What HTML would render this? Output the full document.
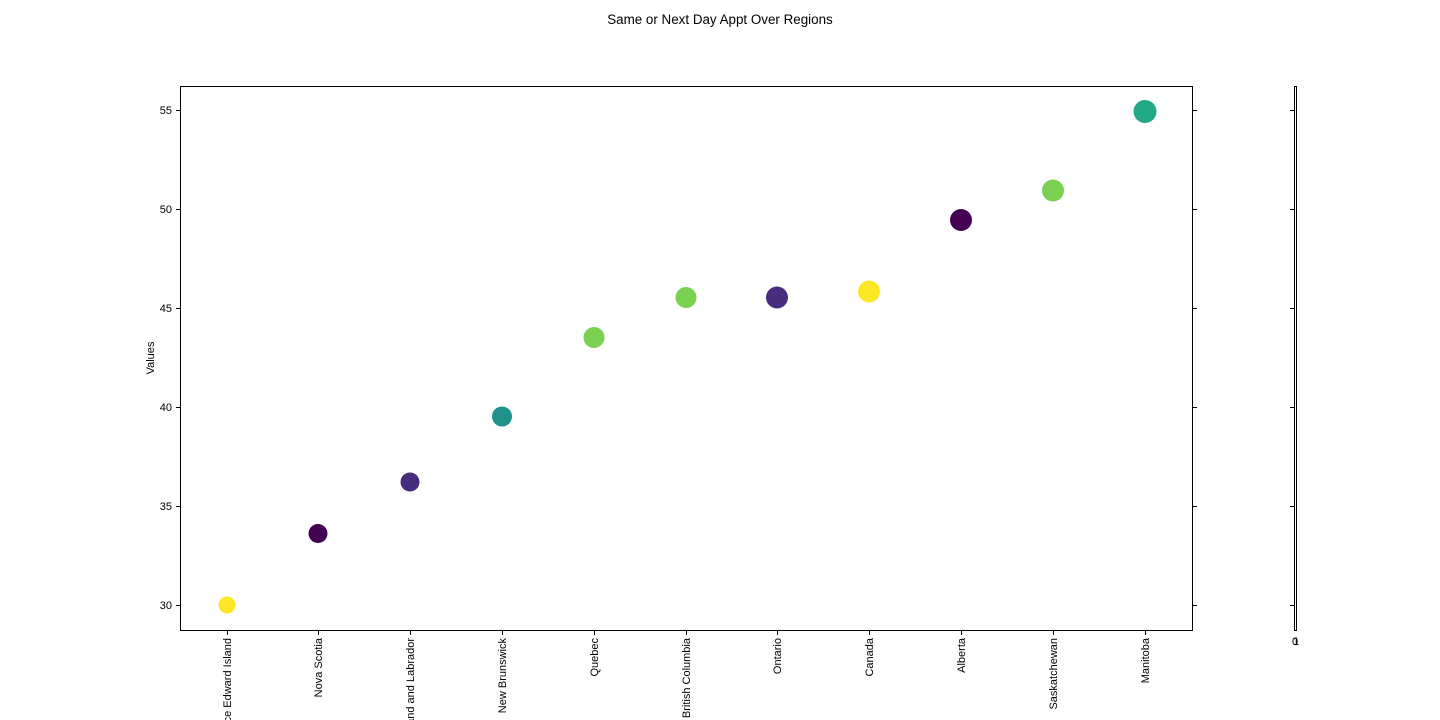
<!DOCTYPE html>
<html><head><meta charset="utf-8"><style>html,body{margin:0;background:#fff;overflow:hidden;width:1440px;height:720px}svg{display:block}text{font-family:"Liberation Sans","DejaVu Sans",sans-serif;font-size:11px;fill:#000}</style></head><body>
<svg width="1440" height="720" viewBox="0 0 1440 720">
<text x="720" y="24" text-anchor="middle" style="font-size:13.4px">Same or Next Day Appt Over Regions</text>
<rect x="180.5" y="86.5" width="1012" height="544" fill="none" stroke="#000" stroke-width="1"/>
<g stroke="#000">
<line x1="176" x2="180" y1="110.5" y2="110.5"/><line x1="176" x2="180" y1="209.5" y2="209.5"/><line x1="176" x2="180" y1="308.5" y2="308.5"/><line x1="176" x2="180" y1="407.5" y2="407.5"/><line x1="176" x2="180" y1="506.5" y2="506.5"/><line x1="176" x2="180" y1="605.5" y2="605.5"/>
<line x1="1193" x2="1197" y1="110.5" y2="110.5"/><line x1="1193" x2="1197" y1="209.5" y2="209.5"/><line x1="1193" x2="1197" y1="308.5" y2="308.5"/><line x1="1193" x2="1197" y1="407.5" y2="407.5"/><line x1="1193" x2="1197" y1="506.5" y2="506.5"/><line x1="1193" x2="1197" y1="605.5" y2="605.5"/>
<line x1="1290" x2="1294" y1="110.5" y2="110.5"/><line x1="1290" x2="1294" y1="209.5" y2="209.5"/><line x1="1290" x2="1294" y1="308.5" y2="308.5"/><line x1="1290" x2="1294" y1="407.5" y2="407.5"/><line x1="1290" x2="1294" y1="506.5" y2="506.5"/><line x1="1290" x2="1294" y1="605.5" y2="605.5"/>
</g>
<rect x="1294.5" y="86.5" width="2" height="544" fill="none" stroke="#000" stroke-width="1"/>
<text x="1295" y="645" text-anchor="middle">0</text><text x="1296" y="645" text-anchor="middle">1</text>
<g text-anchor="end">
<text x="172" y="114">55</text><text x="172" y="213">50</text><text x="172" y="312">45</text><text x="172" y="411">40</text><text x="172" y="510">35</text><text x="172" y="609">30</text>
</g>
<text transform="translate(154,358) rotate(-90)" text-anchor="middle">Values</text>
<g stroke="#000">
<line x1="227.5" x2="227.5" y1="631" y2="635"/><line x1="318.5" x2="318.5" y1="631" y2="635"/><line x1="410.5" x2="410.5" y1="631" y2="635"/><line x1="502.5" x2="502.5" y1="631" y2="635"/><line x1="594.5" x2="594.5" y1="631" y2="635"/><line x1="686.5" x2="686.5" y1="631" y2="635"/><line x1="777.5" x2="777.5" y1="631" y2="635"/><line x1="869.5" x2="869.5" y1="631" y2="635"/><line x1="961.5" x2="961.5" y1="631" y2="635"/><line x1="1053.5" x2="1053.5" y1="631" y2="635"/><line x1="1145.5" x2="1145.5" y1="631" y2="635"/>
</g>
<g text-anchor="end">
<text transform="translate(231,638) rotate(-90)">Prince Edward Island</text>
<text transform="translate(322,638) rotate(-90)">Nova Scotia</text>
<text transform="translate(414,638) rotate(-90)">Newfoundland and Labrador</text>
<text transform="translate(506,638) rotate(-90)">New Brunswick</text>
<text transform="translate(598,638) rotate(-90)">Quebec</text>
<text transform="translate(690,638) rotate(-90)">British Columbia</text>
<text transform="translate(781,638) rotate(-90)">Ontario</text>
<text transform="translate(873,638) rotate(-90)">Canada</text>
<text transform="translate(965,638) rotate(-90)">Alberta</text>
<text transform="translate(1057,638) rotate(-90)">Saskatchewan</text>
<text transform="translate(1149,638) rotate(-90)">Manitoba</text>
</g>
<circle cx="227" cy="605" r="8.5" fill="#fde725"/>
<circle cx="318" cy="533.5" r="9.5" fill="#440154"/>
<circle cx="410" cy="482" r="9.5" fill="#472d7b"/>
<circle cx="502" cy="416.5" r="10" fill="#21918c"/>
<circle cx="594" cy="337.5" r="10.5" fill="#7ad151"/>
<circle cx="686" cy="297.5" r="10.5" fill="#7ad151"/>
<circle cx="777" cy="297.5" r="11" fill="#472d7b"/>
<circle cx="869" cy="291.5" r="11" fill="#fde725"/>
<circle cx="961" cy="220" r="11" fill="#440154"/>
<circle cx="1053" cy="190.5" r="11" fill="#7ad151"/>
<circle cx="1145" cy="111.5" r="11.5" fill="#22a884"/>
</svg>
</body></html>
